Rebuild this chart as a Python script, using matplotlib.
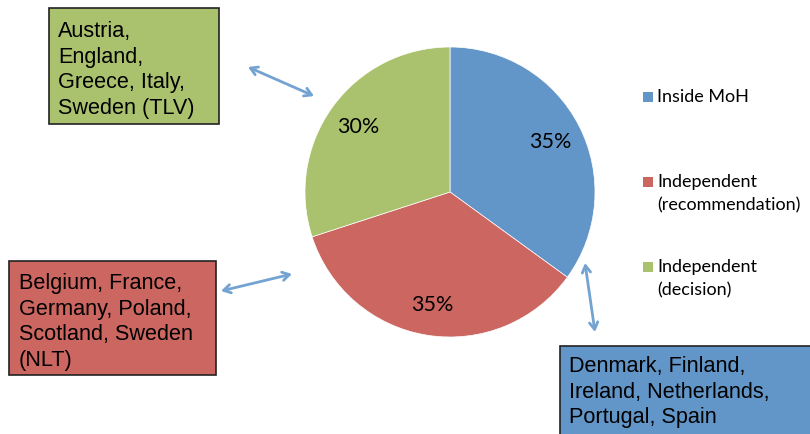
import matplotlib

matplotlib.use("Agg")
import matplotlib.pyplot as plt
from matplotlib.patches import Rectangle, FancyArrowPatch

W, H = 810, 435

labels = ["Inside MoH", "Independent\n(recommendation)", "Independent\n(decision)"]
shares = [35, 35, 30]
colors = ["#6396C8", "#CB6661", "#AAC26E"]

box_texts = [
    "Austria,\nEngland,\nGreece, Italy,\nSweden (TLV)",
    "Belgium, France,\nGermany, Poland,\nScotland, Sweden\n(NLT)",
    "Denmark, Finland,\nIreland, Netherlands,\nPortugal, Spain",
]
box_colors = ["#AAC26E", "#CB6661", "#6396C8"]
# (left, top, right, bottom) in pixels from top-left
box_px = [(49, 9, 219, 125), (9, 262, 216, 376), (560, 347, 812, 440)]
text_px = [(58, 21), (19, 273), (569, 356)]
arrows_px = [((248, 68), (314, 97)), ((221, 292), (292, 275)), ((585, 264), (595, 333))]
arrow_color = "#74A3D2"
legend_rows = [98, 183, 268]


def fx(x):
    return x / W


def fy(y):
    return 1 - y / H


fig = plt.figure(figsize=(W / 100, H / 100), dpi=100)

# pie centred at (450, 193), radius 145 px
r = 145
ax = fig.add_axes([fx(450 - r), fy(193 + r), 2 * r / W, 2 * r / H])
wedges, _, autotexts = ax.pie(
    shares,
    colors=colors,
    startangle=90,
    counterclock=False,
    autopct="%d%%",
    pctdistance=0.78,
    radius=1.0,
    wedgeprops=dict(linewidth=0.5, edgecolor="white"),
    textprops=dict(fontsize=15.5, family="Lato", color="black"),
)
ax.set_xlim(-1, 1)
ax.set_ylim(-1, 1)
ax.set_aspect("equal")
ax.axis("off")

# legend: square aligned with the first line of each label
for lab, c, yr in zip(labels, colors, legend_rows):
    fig.patches.append(
        Rectangle(
            (fx(643), fy(yr + 5)), 10 / W, 10 / H,
            transform=fig.transFigure, facecolor=c, edgecolor="none",
        )
    )
    fig.text(
        fx(657), fy(yr - 9), lab,
        ha="left", va="top", family="Lato", fontsize=13,
        linespacing=1.55, color="black",
    )

for text, fc, (l, t, rr, b), (tx, ty) in zip(box_texts, box_colors, box_px, text_px):
    fig.patches.append(
        Rectangle(
            (fx(l), fy(b)),
            (rr - l) / W,
            (b - t) / H,
            transform=fig.transFigure,
            facecolor=fc,
            edgecolor="#222222",
            linewidth=1.2,
        )
    )
    fig.text(
        fx(tx), fy(ty), text,
        ha="left", va="top",
        family="Liberation Sans", fontsize=15.6,
        linespacing=1.29, color="black",
    )

for (x0, y0), (x1, y1) in arrows_px:
    fig.add_artist(
        FancyArrowPatch(
            (fx(x0), fy(y0)), (fx(x1), fy(y1)),
            transform=fig.transFigure,
            arrowstyle="<->,head_length=5,head_width=3",
            color=arrow_color,
            linewidth=2,
            shrinkA=0, shrinkB=0,
        )
    )

fig.savefig("out.png", dpi=100)
